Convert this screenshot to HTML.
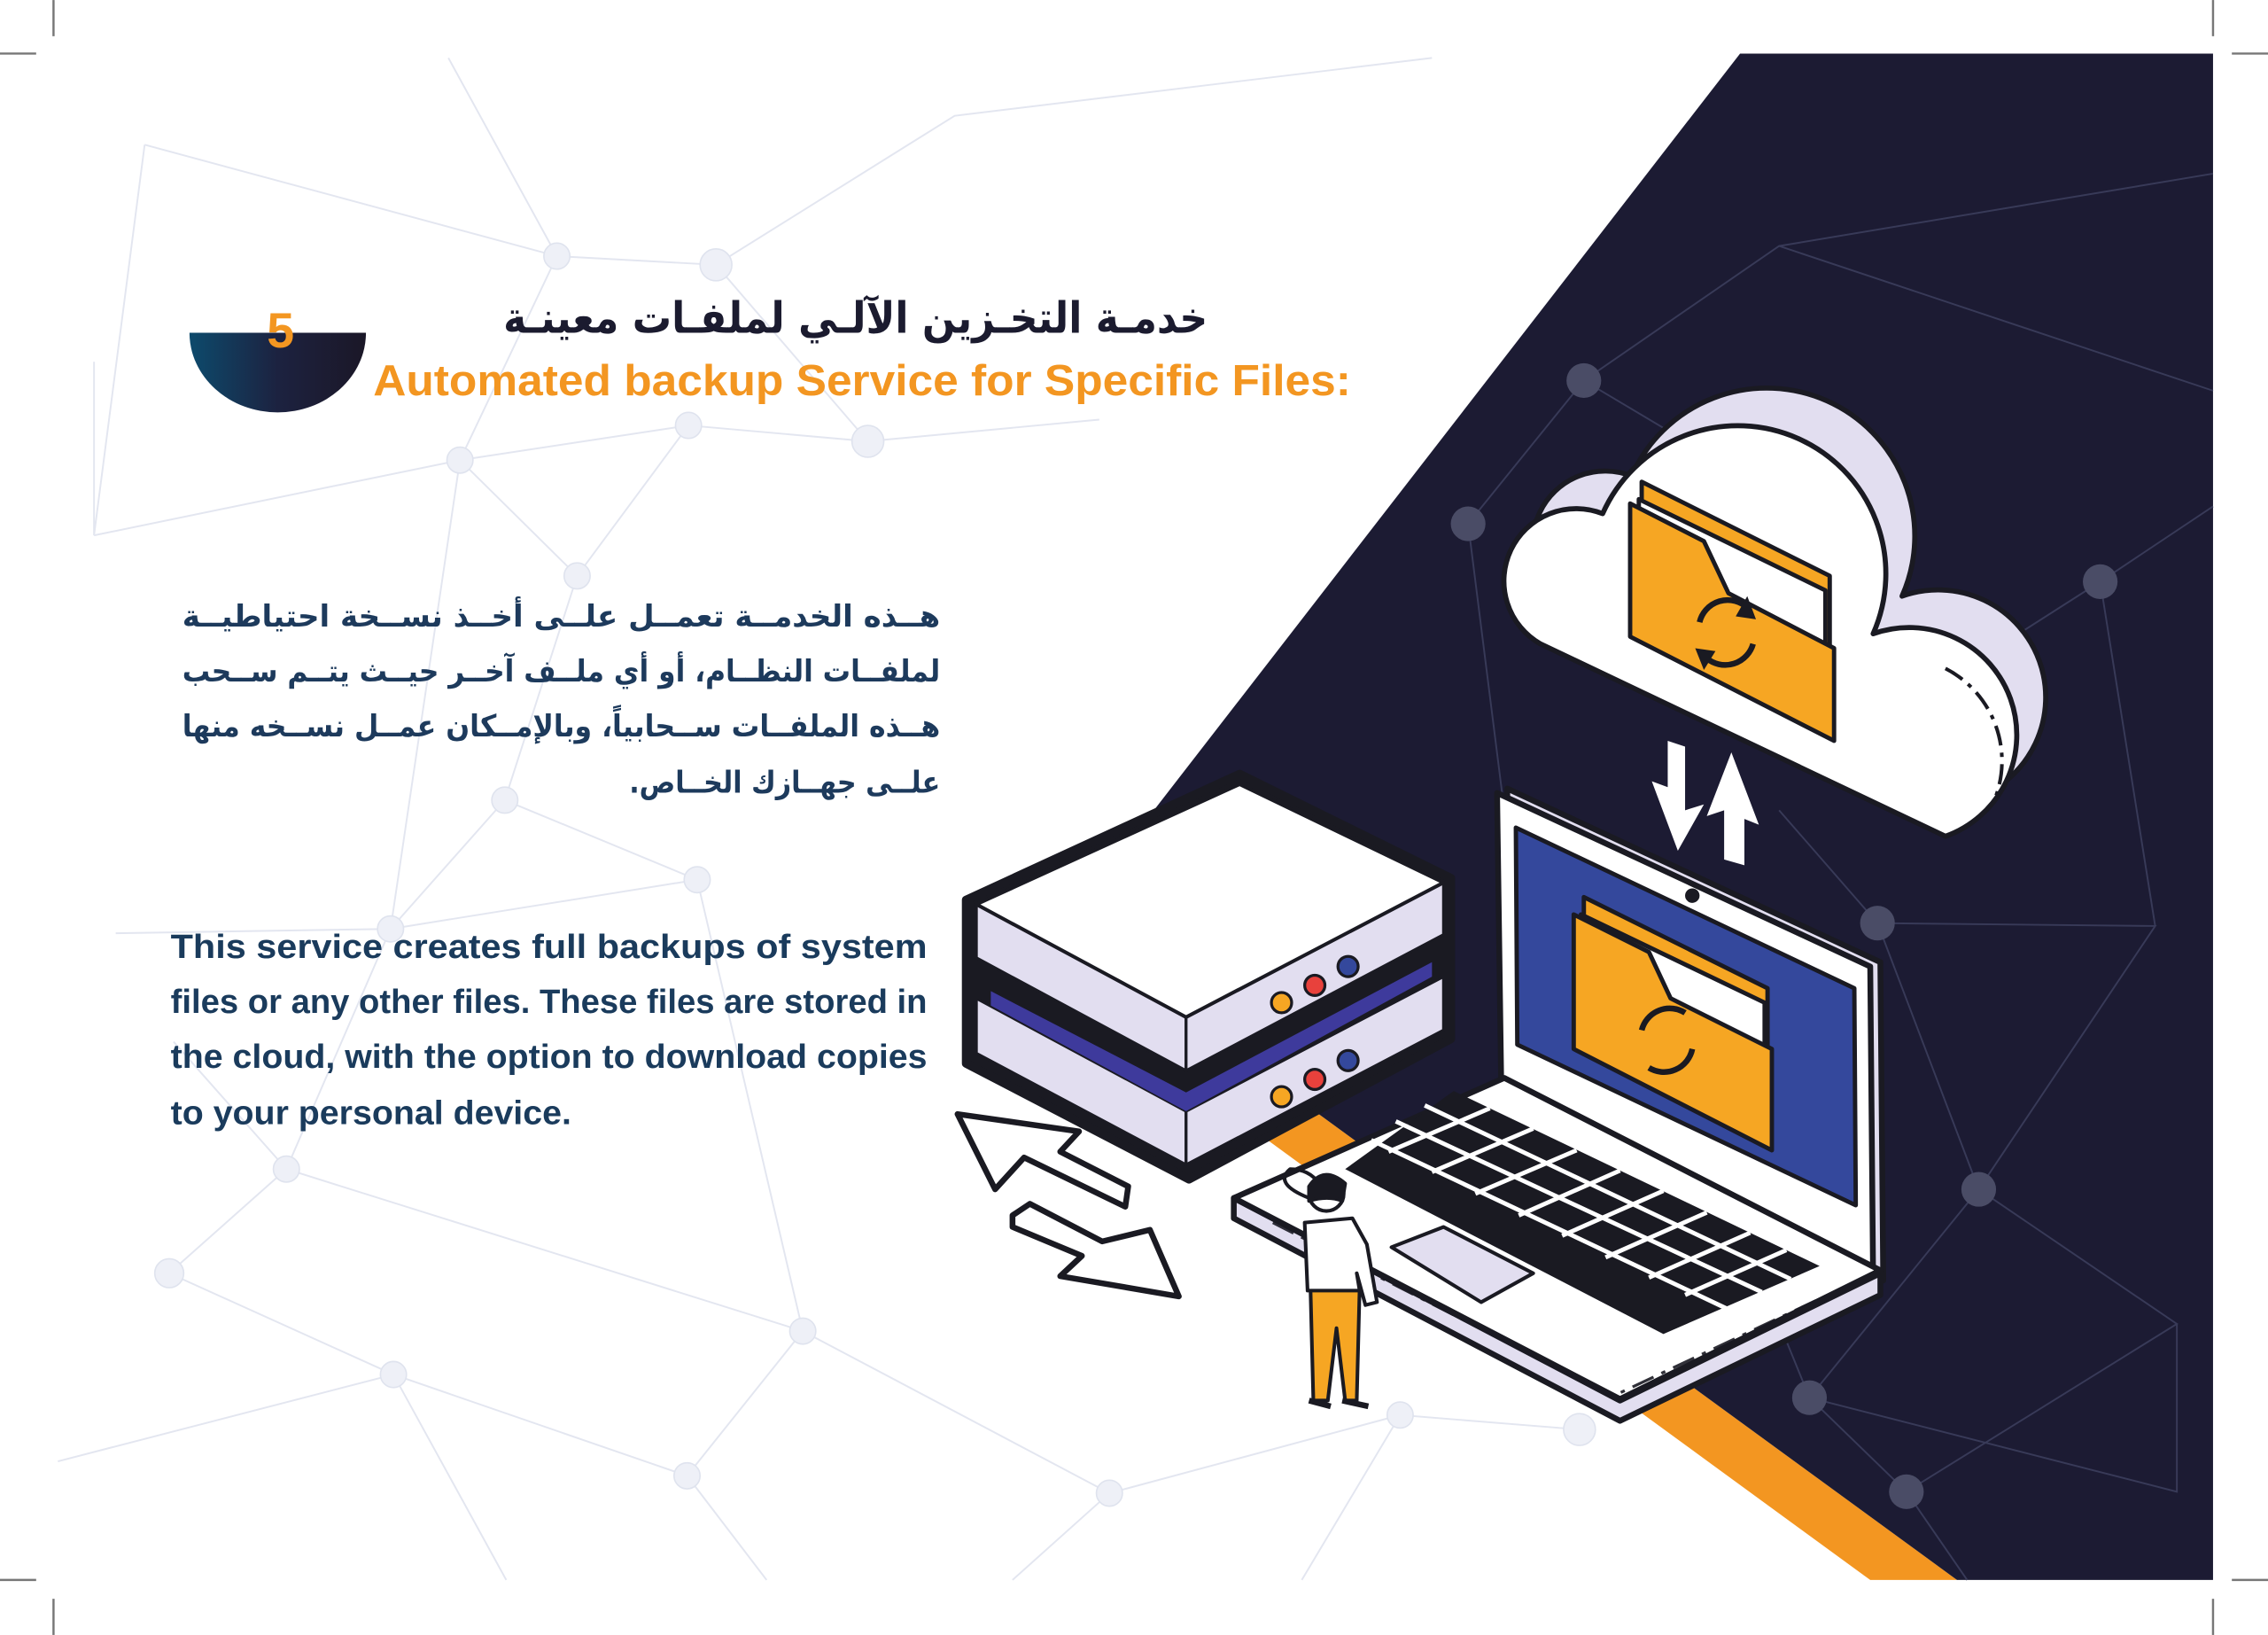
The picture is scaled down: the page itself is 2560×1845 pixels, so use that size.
<!DOCTYPE html>
<html><head><meta charset="utf-8">
<style>
html,body{margin:0;padding:0;background:#fff;}
svg{display:block;}
.ar{font-family:"DejaVu Sans","Noto Sans CJK SC",sans-serif;}
.en{font-family:"Liberation Sans",sans-serif;}
</style></head>
<body>
<svg width="2560" height="1845" viewBox="0 0 1568 1130" xmlns="http://www.w3.org/2000/svg">
<defs>
<linearGradient id="hg" x1="0" x2="1" y1="0" y2="0">
<stop offset="0" stop-color="#0d4a6c"/><stop offset="0.5" stop-color="#1c2240"/><stop offset="1" stop-color="#1b1727"/>
</linearGradient>
</defs>
<rect width="1568" height="1130" fill="#fff"/>

<g stroke="#e3e6f0" stroke-width="1.2" fill="none">
<path d="M100,100 L385,177 L495,183 L600,305 L476,294 L318,318 L385,177 M318,318 L399,398 L476,294 M65,370 L318,318 L270,642 L349,553 L399,398 M349,553 L482,608 L270,642 L80,645 M270,642 L198,808 L117,880 L272,950 L475,1020 L555,920 L198,808 M555,920 L767,1032 L968,978 L1092,988 M272,950 L40,1010 M475,1020 L530,1092 M767,1032 L700,1092 M555,920 L482,608 M310,40 L385,177 M495,183 L660,80 L990,40 M600,305 L760,290 M65,250 L65,370 L100,100 M120,720 L198,808 M350,1092 L272,950 M968,978 L900,1092"/>
</g>
<g fill="#eef0f7" stroke="#dfe3ee">
<circle cx="385" cy="177" r="9"/><circle cx="495" cy="183" r="11"/><circle cx="318" cy="318" r="9"/><circle cx="476" cy="294" r="9"/><circle cx="600" cy="305" r="11"/><circle cx="399" cy="398" r="9"/><circle cx="349" cy="553" r="9"/><circle cx="482" cy="608" r="9"/><circle cx="270" cy="642" r="9"/><circle cx="198" cy="808" r="9"/><circle cx="117" cy="880" r="10"/><circle cx="272" cy="950" r="9"/><circle cx="555" cy="920" r="9"/><circle cx="475" cy="1020" r="9"/><circle cx="767" cy="1032" r="9"/><circle cx="968" cy="978" r="9"/><circle cx="1092" cy="988" r="11"/>
</g>

<polygon points="675,641 1293,1092 1353,1092 735,641" fill="#f39621"/>
<polygon points="1203,37 1530,37 1530,1092 1353,1092 735,641" fill="#1c1b33"/>
<g stroke="#383a58" stroke-width="1.2" fill="none">
<path d="M1095,263 L1015,362 L1040,560 M1095,263 L1230,170 L1530,270 M1095,263 L1300,385 M1452,402 L1530,350 M1452,402 L1330,480 M1452,402 L1490,640 M1298,638 L1490,640 L1368,822 L1298,638 L1230,560 M1368,822 L1505,915 L1318,1031 L1251,966 L1368,822 M1251,966 L1505,1031 L1505,915 M1318,1031 L1251,966 L1220,890 M1318,1031 L1360,1092 M1230,170 L1530,120"/>
</g>
<g fill="#4a4c66">
<circle cx="1095" cy="263" r="12"/><circle cx="1015" cy="362" r="12"/><circle cx="1452" cy="402" r="12"/><circle cx="1298" cy="638" r="12"/><circle cx="1368" cy="822" r="12"/><circle cx="1251" cy="966" r="12"/><circle cx="1318" cy="1031" r="12"/>
</g>

<g stroke="#777" stroke-width="1.5">
<line x1="37" y1="0" x2="37" y2="25"/><line x1="0" y1="37" x2="25" y2="37"/>
<line x1="1530" y1="0" x2="1530" y2="25"/><line x1="1543" y1="37" x2="1568" y2="37"/>
<line x1="37" y1="1105" x2="37" y2="1130"/><line x1="0" y1="1092" x2="25" y2="1092"/>
<line x1="1530" y1="1105" x2="1530" y2="1130"/><line x1="1543" y1="1092" x2="1568" y2="1092"/>
</g>

<path d="M131,230 A61,55 0 0,0 253,230 Z" fill="url(#hg)"/>
<text x="194" y="240" text-anchor="middle" class="en" font-size="34" font-weight="bold" fill="#f39621">5</text>
<text x="835" y="230" text-anchor="start" direction="rtl" class="ar" font-size="30" font-weight="bold" fill="#1b1b2f" textLength="487" lengthAdjust="spacingAndGlyphs">خدمـة التخـزين الآلـي لملفـات معينـة</text>
<text x="258" y="273" class="en" font-size="30" font-weight="bold" fill="#f39621" textLength="676" lengthAdjust="spacingAndGlyphs">Automated backup Service for Specific Files:</text>

<g class="ar" font-size="21" font-weight="bold" fill="#1d3a5c" text-anchor="start" direction="rtl">
<text x="650" y="433" textLength="524" lengthAdjust="spacingAndGlyphs">هــذه الخدمــة تعمــل علــى أخــذ نســخة احتياطيــة</text>
<text x="650" y="471" textLength="524" lengthAdjust="spacingAndGlyphs">لملفــات النظــام، أو أي ملــف آخــر حيــث يتــم ســحب</text>
<text x="650" y="509" textLength="524" lengthAdjust="spacingAndGlyphs">هــذه الملفــات ســحابياً، وبالإمــكان عمــل نســخه منها</text>
<text x="650" y="548" textLength="215" lengthAdjust="spacingAndGlyphs">علــى جهــازك الخــاص.</text>
</g>

<g class="en" font-size="23.5" font-weight="bold" fill="#1a3b5c">
<text x="118" y="662" textLength="523" lengthAdjust="spacingAndGlyphs">This service creates full backups of system</text>
<text x="118" y="700" textLength="523" lengthAdjust="spacingAndGlyphs">files or any other files. These files are stored in</text>
<text x="118" y="738" textLength="523" lengthAdjust="spacingAndGlyphs">the cloud, with the option to download copies</text>
<text x="118" y="777" textLength="277" lengthAdjust="spacingAndGlyphs">to your personal device.</text>
</g>

<!-- cloud -->
<g stroke="#1a1a22" stroke-width="3.5" stroke-linejoin="round">
<path transform="translate(20,-26)" d="M1065,445 A50,50 0 0,1 1108,355 A100,100 0 0,1 1295,438 A72,72 0 0,1 1345,578 Z" fill="#e2def0"/>
<path d="M1065,445 A50,50 0 0,1 1108,355 A100,100 0 0,1 1295,438 A72,72 0 0,1 1345,578 Z" fill="#fff"/>
</g>
<path d="M1345,462 A72,72 0 0,1 1378,555" stroke="#1a1a22" stroke-width="2.5" fill="none" stroke-dasharray="14,5,3,5"/>
<g stroke="#1a1a22" stroke-width="3" stroke-linejoin="round">
<polygon points="1135,333 1265,398 1265,450 1135,388" fill="#f6a623"/>
<polygon points="1133,345 1262,408 1262,455 1133,395" fill="#fff"/>
<polygon points="1127,348 1178,374 1195,410 1268,448 1268,512 1127,440" fill="#f6a623"/>
</g>
<g stroke="#1a1a22" stroke-width="4" fill="none">
<path d="M1175,430 A20,20 0 0,1 1208,420"/><path d="M1212,445 A20,20 0 0,1 1180,455"/>
</g>
<polygon points="1208,412 1214,428 1200,426" fill="#1a1a22"/><polygon points="1178,463 1172,448 1186,450" fill="#1a1a22"/>

<g fill="#fff">
<polygon points="1153,512 1165,516 1165,560 1178,556 1160,588 1142,540 1153,544"/>
<polygon points="1197,520 1216,570 1206,566 1206,598 1192,594 1192,560 1180,564"/>
</g>

<g stroke="#1a1a22" stroke-width="4" stroke-linejoin="round">
<polygon points="1042,545 1300,665 1302,885 1045,755" fill="#e2def0"/>
<polygon points="1035,548 1293,668 1295,885 1038,758" fill="#fff"/>
<polygon points="1048,572 1282,683 1283,833 1049,722" fill="#34489c" stroke-width="3"/>
</g>
<circle cx="1170" cy="619" r="5" fill="#1a1a22"/>
<g stroke="#1a1a22" stroke-width="3" stroke-linejoin="round">
<polygon points="1095,620 1222,683 1222,730 1095,668" fill="#f6a623"/>
<polygon points="1093,632 1220,693 1220,735 1093,676" fill="#fff"/>
<polygon points="1088,632 1140,658 1155,690 1225,725 1225,795 1088,725" fill="#f6a623"/>
</g>
<g stroke="#1a1a22" stroke-width="4" fill="none">
<path d="M1135,712 A20,20 0 0,1 1165,700"/><path d="M1170,725 A20,20 0 0,1 1140,738"/>
</g>

<g stroke="#1a1a22" stroke-width="4" stroke-linejoin="round">
<polygon points="853,828 1120,968 1300,880 1300,895 1120,982 853,842" fill="#e2def0"/>
<polygon points="1040,745 1300,878 1120,967 853,828" fill="#fff"/>
</g>
<path d="M880,845 L1115,965 L1285,885" stroke="#1a1a22" stroke-width="2" fill="none" stroke-dasharray="16,6,3,6" opacity="0.9"/>
<polygon points="1005,754 1258,875 1150,922 930,808" fill="#1a1a22"/>
<g stroke="#fff" stroke-width="3">
<line x1="985" y1="764" x2="1238" y2="884"/><line x1="965" y1="775" x2="1218" y2="893"/><line x1="948" y1="788" x2="1195" y2="905"/>
<line x1="1030" y1="766" x2="960" y2="796"/><line x1="1060" y1="780" x2="990" y2="810"/><line x1="1090" y1="795" x2="1020" y2="825"/><line x1="1120" y1="809" x2="1050" y2="840"/><line x1="1150" y1="823" x2="1080" y2="854"/><line x1="1180" y1="838" x2="1110" y2="869"/><line x1="1210" y1="852" x2="1140" y2="883"/><line x1="1235" y1="864" x2="1165" y2="895"/>
</g>
<polygon points="962,862 998,848 1060,880 1024,900" fill="#e2def0" stroke="#1a1a22" stroke-width="2.5" stroke-linejoin="round"/>

<g stroke="#1a1a22" stroke-linejoin="round">
<polygon points="668,622 857,535 1003,607 1003,718 822,815 668,735" fill="#1a1a22" stroke-width="6"/>
<polygon points="675,690 820,768 820,805 675,728" fill="#e2def0" stroke-width="2"/>
<polygon points="820,768 998,675 998,712 820,805" fill="#e2def0" stroke-width="2"/>
<polygon points="685,685 820,755 990,665 990,675 820,768 685,695" fill="#3e3a9c" stroke-width="0"/>
<polygon points="675,625 820,703 820,740 675,662" fill="#e2def0" stroke-width="2"/>
<polygon points="820,703 998,610 998,646 820,740" fill="#e2def0" stroke-width="2"/>
<polygon points="675,625 857,542 998,610 820,703" fill="#fff" stroke-width="2.5"/>
</g>
<g stroke="#1a1a22" stroke-width="2">
<circle cx="886" cy="693" r="7" fill="#f6a623"/><circle cx="909" cy="681" r="7" fill="#e8413c"/><circle cx="932" cy="668" r="7" fill="#34489c"/>
<circle cx="886" cy="758" r="7" fill="#f6a623"/><circle cx="909" cy="746" r="7" fill="#e8413c"/><circle cx="932" cy="733" r="7" fill="#34489c"/>
</g>

<g stroke="#1a1a22" stroke-width="4" stroke-linejoin="round" fill="#fff">
<polygon points="662,770 746,782 733,796 780,820 778,834 708,800 688,822"/>
<polygon points="700,840 712,832 762,858 795,850 815,896 733,882 748,868 700,848"/>
</g>

<g stroke="#1a1a22" stroke-width="2.5" stroke-linejoin="round">
<polygon points="906,890 940,890 938,968 930,968 924,918 918,968 908,968" fill="#f6a623"/>
<path d="M902,845 L935,842 L945,860 L952,900 L944,902 L938,880 L940,892 L904,892 Z" fill="#fff"/>
<circle cx="917" cy="825" r="12" fill="#fff"/>
<path d="M905,820 Q915,805 930,818 L928,830 Q918,826 905,830 Z" fill="#1a1a22"/>
<path d="M905,828 Q880,818 892,808 Q905,808 912,818" fill="none"/>
<path d="M905,968 L920,972 M928,968 L946,972" stroke-width="4"/>
</g>
</svg>
</body></html>
